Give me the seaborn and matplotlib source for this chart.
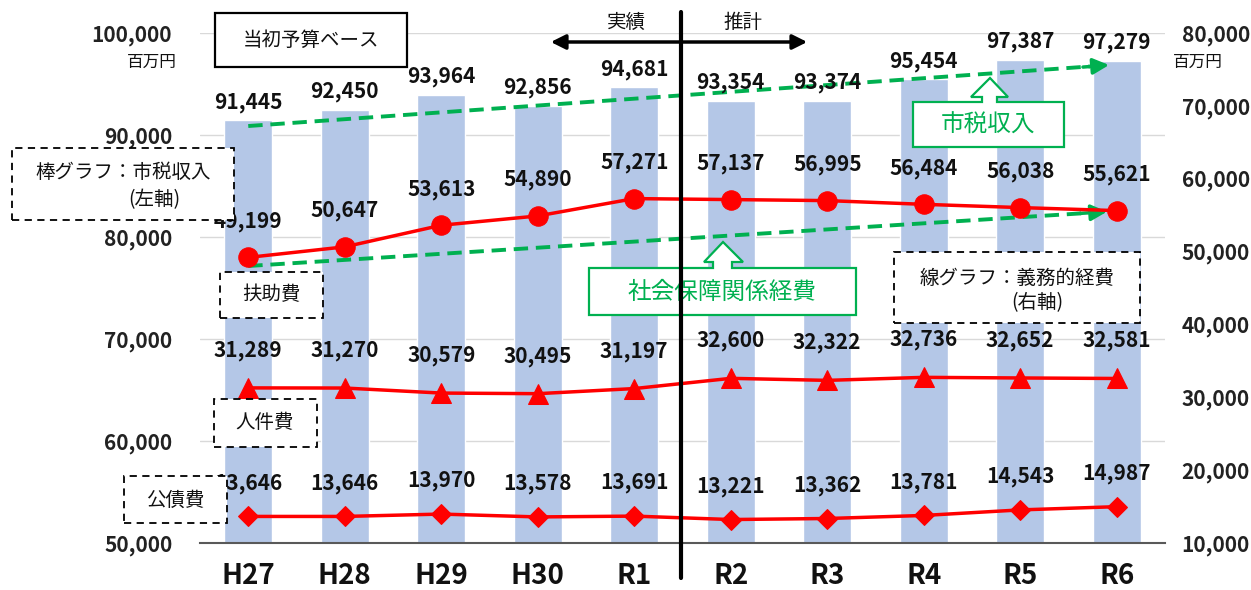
import numpy as np
import pandas as pd
import matplotlib
matplotlib.use("Agg")
import matplotlib.pyplot as plt
import seaborn as sns
from matplotlib.patches import Rectangle, Polygon, FancyArrowPatch
from matplotlib.lines import Line2D

# ---------------- data ----------------
years = ["H27", "H28", "H29", "H30", "R1", "R2", "R3", "R4", "R5", "R6"]
tax_revenue = [91445, 92450, 93964, 92856, 94681, 93354, 93374, 95454, 97387, 97279]
fujo = [49199, 50647, 53613, 54890, 57271, 57137, 56995, 56484, 56038, 55621]
jinken = [31289, 31270, 30579, 30495, 31197, 32600, 32322, 32736, 32652, 32581]
kousai = [13646, 13646, 13970, 13578, 13691, 13221, 13362, 13781, 14543, 14987]
left_ticks = [50000, 60000, 70000, 80000, 90000, 100000]
right_ticks = [10000, 20000, 30000, 40000, 50000, 60000, 70000, 80000]

# ---------------- style ----------------
sns.set_theme(style="white")
plt.rcParams['font.family'] = ['Noto Sans CJK JP', 'DejaVu Sans']
NUM = ['Liberation Sans Narrow', 'Noto Sans CJK JP', 'DejaVu Sans']
BAR = '#B4C7E7'
RED = '#FF0000'
GREEN = '#00B050'

W, H = 1251, 590
fig = plt.figure(figsize=(W / 100, H / 100), dpi=100)
fig.patch.set_facecolor('white')


def fx(x):
    return x / W


def fy(y):
    return 1 - y / H


ax = fig.add_axes([fx(200), fy(543), (1165 - 200) / W, (543 - 33) / H])
df = pd.DataFrame({'year': years, 'tax': tax_revenue})
sns.barplot(data=df, x='year', y='tax', ax=ax, color=BAR, width=0.5,
            saturation=1, zorder=2)
ax.set_xlim(-0.5, len(years) - 0.5)
ax.set_ylim(50000, 100000)
ax.set_yticks(left_ticks)
ax.set_yticklabels([f"{t:,}" for t in left_ticks], fontsize=15,
                   family=NUM, fontweight='bold', color='#222222')
ax.set_xticks(range(len(years)))
ax.set_xticklabels(years, fontsize=20, family=NUM, fontweight='bold', color='#111111')
ax.yaxis.grid(True, color='#D9D9D9', lw=1)
ax.set_axisbelow(True)
ax.set_xlabel('')
ax.set_ylabel('')
for s in ['top', 'left', 'right']:
    ax.spines[s].set_visible(False)
ax.spines['bottom'].set_color('#595959')
ax.spines['bottom'].set_linewidth(1.5)
ax.tick_params(axis='y', length=0, pad=20)
ax.tick_params(axis='x', length=0, pad=14)

for i, v in enumerate(tax_revenue):
    ax.annotate(f"{v:,}", (i, v), xytext=(0, 13), textcoords='offset points',
                ha='center', va='center', fontsize=15, family=NUM,
                fontweight='bold', color='#111111', zorder=4)

# upper green dashed trend arrow (left axis)
ax.add_line(Line2D([0, 8.72], [90880, 96720], color=GREEN, lw=2.8,
                   dashes=(3.7, 2), zorder=3))
ax.annotate('', xy=(8.92, 96860), xytext=(8.65, 96660),
            arrowprops=dict(arrowstyle='-|>', color=GREEN, lw=2.5,
                            mutation_scale=24, shrinkA=0, shrinkB=0), zorder=3)

ax2 = ax.twinx()
ax2.set_ylim(10000, 80000)
xs = np.arange(len(years))
sns.lineplot(x=xs, y=fujo, ax=ax2, color=RED, lw=2.5, marker='o',
             markersize=14, markeredgecolor=RED, zorder=4)
sns.lineplot(x=xs, y=jinken, ax=ax2, color=RED, lw=2.5, marker='^',
             markersize=14, markeredgecolor=RED, zorder=4)
sns.lineplot(x=xs, y=kousai, ax=ax2, color=RED, lw=2.5, marker='D',
             markersize=10, markeredgecolor=RED, zorder=4)
ax2.set_xlim(-0.5, len(years) - 0.5)
ax2.set_ylim(10000, 80000)
ax2.set_yticks(right_ticks)
ax2.set_yticklabels([f"{t:,}" for t in right_ticks], fontsize=15,
                    family=NUM, fontweight='bold', color='#222222')
ax2.tick_params(axis='y', length=0, pad=12)
ax2.set_ylabel('')
for s in ax2.spines.values():
    s.set_visible(False)

for series, off in ((fujo, 26), (jinken, 27), (kousai, 24)):
    for i, v in enumerate(series):
        ax2.annotate(f"{v:,}", (i, v), xytext=(0, off), textcoords='offset points',
                     ha='center', va='center', fontsize=15, family=NUM,
                     fontweight='bold', color='#111111', zorder=5)

# lower green dashed trend arrow (right axis)
ax2.add_line(Line2D([0, 8.7], [48020, 55300], color=GREEN, lw=2.8,
                    dashes=(3.7, 2), zorder=2))
ax2.annotate('', xy=(8.9, 55480), xytext=(8.62, 55240),
             arrowprops=dict(arrowstyle='-|>', color=GREEN, lw=2.5,
                             mutation_scale=24, shrinkA=0, shrinkB=0), zorder=2)

# ---------------- figure-level annotations ----------------
def box(x0, y0, x1, y1, ls=(0, (4, 3)), ec='black', lw=1.3):
    fig.add_artist(Rectangle((fx(x0), fy(y1)), (x1 - x0) / W, (y1 - y0) / H,
                             transform=fig.transFigure, facecolor='white',
                             edgecolor=ec, lw=lw, linestyle=ls, zorder=5))


def ftext(x, y, s, size=14, color='#111111', **kw):
    fig.text(fx(x), fy(y), s, ha='center', va='center', fontsize=size,
             color=color, zorder=6, **kw)


def callout(x0, y0, x1, y1, tip, hb, hx0, hx1, sx0, sx1, label):
    tx, ty = tip
    pts = [(x0, y0), (sx0, y0), (sx0, hb), (hx0, hb), (tx, ty), (hx1, hb),
           (sx1, hb), (sx1, y0), (x1, y0), (x1, y1), (x0, y1)]
    fig.add_artist(Polygon([(fx(a), fy(b)) for a, b in pts], closed=True,
                           transform=fig.transFigure, facecolor='white',
                           edgecolor=GREEN, lw=1.6, zorder=5))
    ftext((x0 + x1) / 2, (y0 + y1) / 2 + 1, label, size=17, color=GREEN)


box(215, 13, 407, 67, ls='-', lw=1.6)
ftext(311, 40, "当初予算ベース", 14)

box(12, 148, 234, 220)
ftext(123, 173, "棒グラフ：市税収入", 14)
ftext(154, 200, "(左軸)", 14)

box(220, 272, 323, 318)
ftext(271, 295, "扶助費", 14)

box(214, 399, 317, 447)
ftext(265, 423, "人件費", 14)

box(124, 476, 227, 523)
ftext(175, 500, "公債費", 14)

box(894, 252, 1140, 323)
ftext(1017, 278, "線グラフ：義務的経費", 14)
ftext(1037, 303, "(右軸)", 14)

callout(913, 102, 1064, 147, (990, 78), 97, 971, 1008, 982, 997, "市税収入")
callout(589, 268, 856, 315, (723, 242), 262, 704, 743, 713, 732, "社会保障関係経費")

# actual / estimate divider
fig.add_artist(Line2D([fx(681), fx(681)], [fy(12), fy(578)], color='black',
                      lw=3, transform=fig.transFigure, zorder=7))
fig.add_artist(FancyArrowPatch((fx(548), fy(42)), (fx(810), fy(42)),
                               transform=fig.transFigure, arrowstyle='<|-|>',
                               mutation_scale=22, lw=2.5, color='black', zorder=7))
ftext(626, 22, "実績", 14)
ftext(743, 22, "推計", 14)

ftext(152, 62, "百万円", 12)
ftext(1198, 62, "百万円", 12)

fig.savefig("out.png", dpi=100, facecolor='white')
